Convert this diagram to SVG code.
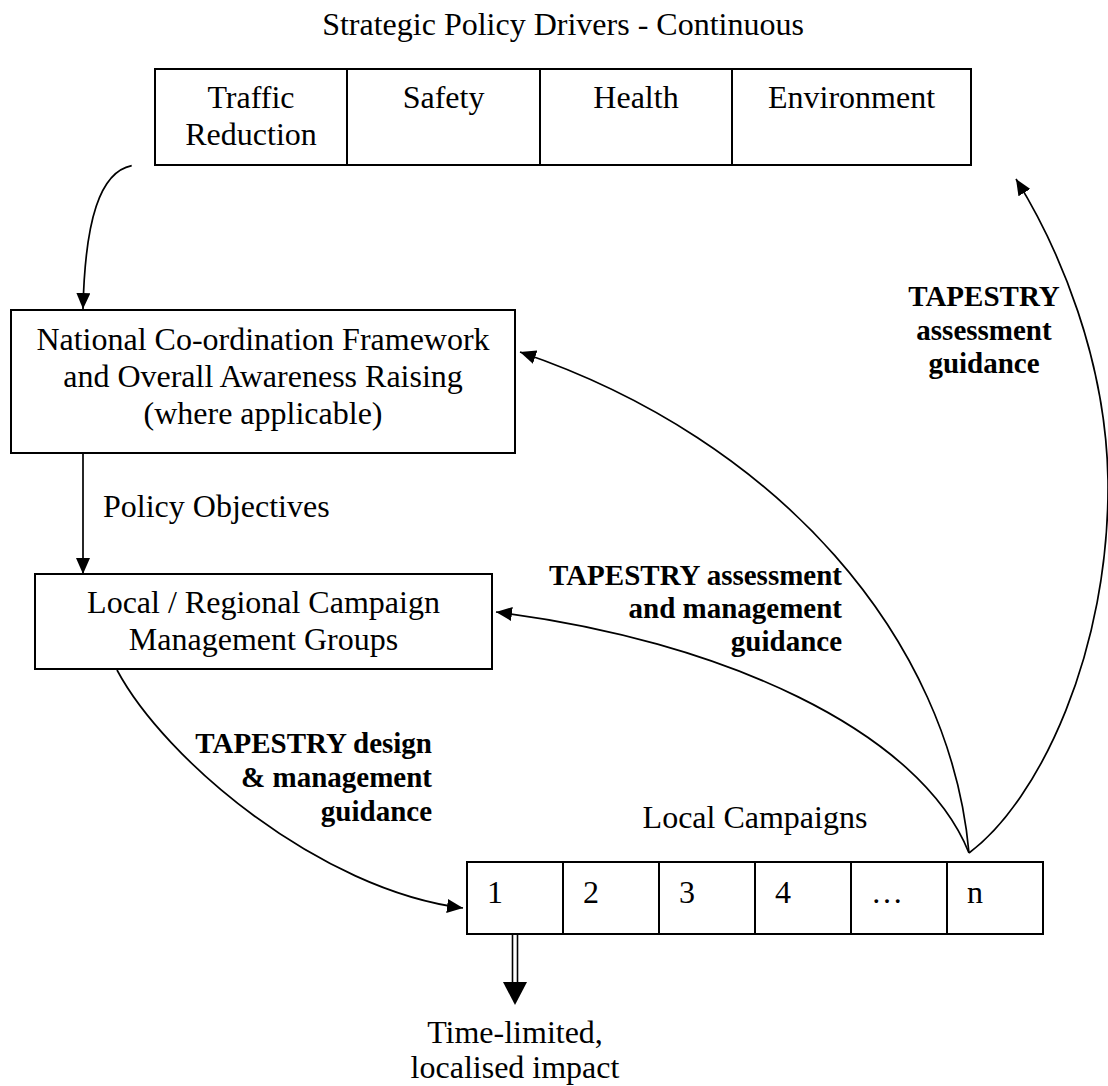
<svg xmlns="http://www.w3.org/2000/svg" width="1108" height="1086" viewBox="0 0 1108 1086">
<defs>
<style>
.t{font-family:"Liberation Serif","Times New Roman",serif;font-size:32px;fill:#000}
.b{font-family:"Liberation Serif","Times New Roman",serif;font-size:29px;font-weight:bold;fill:#000}
.box{fill:#fff;stroke:#000;stroke-width:2}
.div{stroke:#000;stroke-width:2}
.ln{fill:none;stroke:#000;stroke-width:1.7}
.c{text-anchor:middle}
.r{text-anchor:end}
</style>
<marker id="ah" viewBox="0 0 16 14" refX="16" refY="7" markerWidth="16" markerHeight="14" orient="auto" markerUnits="userSpaceOnUse"><path d="M0,0 L16,7 L0,14 z" fill="#000"/></marker>
</defs>
<rect width="1108" height="1086" fill="#fff"/>
<text class="t c" x="563" y="35">Strategic Policy Drivers - Continuous</text>
<g id="drivers">
<rect class="box" x="155" y="69" width="816" height="96"/>
<line class="div" x1="347" y1="69" x2="347" y2="165"/>
<line class="div" x1="540" y1="69" x2="540" y2="165"/>
<line class="div" x1="732" y1="69" x2="732" y2="165"/>
<text class="t c" x="251" y="108">Traffic</text>
<text class="t c" x="251" y="145">Reduction</text>
<text class="t c" x="443.5" y="108">Safety</text>
<text class="t c" x="636" y="108">Health</text>
<text class="t c" x="851.5" y="108">Environment</text>
</g>
<g id="national">
<rect class="box" x="11" y="310" width="504" height="143"/>
<text class="t c" x="263" y="350">National Co-ordination Framework</text>
<text class="t c" x="263" y="387">and Overall Awareness Raising</text>
<text class="t c" x="263" y="424">(where applicable)</text>
</g>
<g id="local">
<rect class="box" x="35" y="574" width="457" height="95"/>
<text class="t c" x="263.5" y="613">Local / Regional Campaign</text>
<text class="t c" x="263.5" y="650">Management Groups</text>
</g>
<g id="campaigns">
<text class="t c" x="755" y="828">Local Campaigns</text>
<rect class="box" x="467" y="862" width="576" height="72"/>
<line class="div" x1="563" y1="862" x2="563" y2="934"/>
<line class="div" x1="659" y1="862" x2="659" y2="934"/>
<line class="div" x1="755" y1="862" x2="755" y2="934"/>
<line class="div" x1="851" y1="862" x2="851" y2="934"/>
<line class="div" x1="947" y1="862" x2="947" y2="934"/>
<text class="t" x="487" y="903">1</text>
<text class="t" x="583" y="903">2</text>
<text class="t" x="679" y="903">3</text>
<text class="t" x="775" y="903">4</text>
<text class="t" x="871" y="903">…</text>
<text class="t" x="967" y="903">n</text>
</g>
<g id="impact">
<text class="t c" x="515" y="1043">Time-limited,</text>
<text class="t c" x="515" y="1078">localised impact</text>
</g>
<g id="connectors">
<path class="ln" d="M131.7,165.7 C100,172 85,220 83,309" marker-end="url(#ah)"/>
<path class="ln" d="M83,453 L83,574" marker-end="url(#ah)"/>
<path class="ln" d="M117,670 C165,760 320,890 463,908" marker-end="url(#ah)"/>
<path class="ln" d="M969,853 C950,640 780,440 520,352" marker-end="url(#ah)"/>
<path class="ln" d="M969,853 C920,730 720,640 496,612" marker-end="url(#ah)"/>
<path class="ln" d="M969,853 C1040,800 1110,650 1108,480 C1106,360 1060,250 1016,179" marker-end="url(#ah)"/>
<line class="ln" x1="512.5" y1="934" x2="512.5" y2="984" style="stroke-width:1.6"/>
<line class="ln" x1="517.5" y1="934" x2="517.5" y2="984" style="stroke-width:1.6"/>
<path d="M503,982 L527,982 L515,1005 z" fill="#000"/>
</g>
<g id="labels">
<text class="t" x="103" y="517">Policy Objectives</text>
<text class="b c" x="984" y="306">TAPESTRY</text>
<text class="b c" x="984" y="340">assessment</text>
<text class="b c" x="984" y="373">guidance</text>
<text class="b r" x="842" y="585">TAPESTRY assessment</text>
<text class="b r" x="842" y="618">and management</text>
<text class="b r" x="842" y="651">guidance</text>
<text class="b r" x="432" y="753">TAPESTRY design</text>
<text class="b r" x="432" y="787">&amp; management</text>
<text class="b r" x="432" y="821">guidance</text>
</g>
</svg>
